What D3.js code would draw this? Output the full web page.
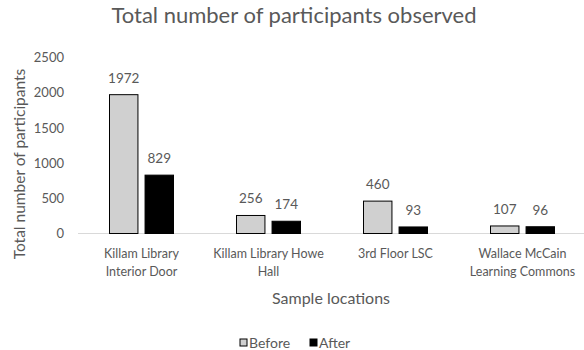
<!DOCTYPE html>
<html><head><meta charset="utf-8">
<script src="https://cdn.jsdelivr.net/npm/d3@7"></script>
<style>body{margin:0;background:#fff;} text{font-family:Lato,"Open Sans",sans-serif;fill:#595959;}</style>
</head><body>
<svg id="chart" width="584" height="350"></svg>
<script>
const categories = ["Killam Library Interior Door","Killam Library Howe Hall","3rd Floor LSC","Wallace McCain Learning Commons"];
const categoryLines = [["Killam Library","Interior Door"],["Killam Library Howe","Hall"],["3rd Floor LSC"],["Wallace McCain","Learning Commons"]];
const series = ["Before","After"];
const before = [1972,256,460,107];
const after = [829,174,93,96];
const yTicks = [0,500,1000,1500,2000,2500];
const colors = {Before:"#d0d0d0", After:"#000000"};

const svg = d3.select("#chart");
const x0 = d3.scaleBand().domain(categories).range([78,586]).padding(0);
const x1 = d3.scaleBand().domain(series).range([31.5,95.5]).paddingInner(0.2);
const y = d3.scaleLinear().domain([0,2500]).range([233.5,57.5]);

svg.append("text").attr("x",294).attr("y",23).attr("text-anchor","middle").style("font-size","22px").text("Total number of participants observed");

const yAxis = svg.append("g").attr("transform","translate(64,0)")
  .call(d3.axisLeft(y).tickValues(yTicks).tickSize(0).tickPadding(0).tickFormat(d3.format("d")));
yAxis.select(".domain").remove();
yAxis.selectAll("text").style("font-size","13px").style("fill","#595959").style("font-family","Lato");

svg.append("line").attr("x1",78).attr("x2",584).attr("y1",y(0)).attr("y2",y(0)).attr("stroke","#d9d9d9").attr("stroke-width",1);

const data = categories.map((c,i)=>({cat:c, vals:[{s:"Before",v:before[i]},{s:"After",v:after[i]}]}));
const g = svg.selectAll("g.grp").data(data).enter().append("g").attr("class","grp").attr("transform",d=>`translate(${x0(d.cat)},0)`);
g.selectAll("rect").data(d=>d.vals).enter().append("rect")
  .attr("x",d=>x1(d.s)).attr("width",x1.bandwidth())
  .attr("y",d=>y(d.v)).attr("height",d=>y(0)-y(d.v))
  .attr("fill",d=>colors[d.s]).attr("stroke","#000").attr("stroke-width",1);
g.selectAll("text.val").data(d=>d.vals).enter().append("text").attr("class","val")
  .attr("x",d=>x1(d.s)+x1.bandwidth()/2).attr("y",d=>y(d.v)-12)
  .attr("text-anchor","middle").style("font-size","13.5px").text(d=>d.v);

const xl = svg.selectAll("g.xl").data(categories).enter().append("g").attr("class","xl");
xl.each(function(c,i){
  const sel = d3.select(this);
  categoryLines[i].forEach((ln,j)=>{
    sel.append("text").attr("x",x0(c)+x0.bandwidth()/2).attr("y",258+j*18)
      .attr("text-anchor","middle").style("font-size","12.5px").text(ln);
  });
});

svg.append("text").attr("x",331).attr("y",304).attr("text-anchor","middle").style("font-size","16px").text("Sample locations");
svg.append("text").attr("transform","translate(25,164) rotate(-90)").attr("text-anchor","middle").style("font-size","15.5px").text("Total number of participants");

const leg = svg.append("g");
const legX = [240,310];
series.forEach((s,i)=>{
  leg.append("rect").attr("x",legX[i]).attr("y",339).attr("width",7).attr("height",7).attr("fill",colors[s]).attr("stroke","#000").attr("stroke-width",1);
  leg.append("text").attr("x",legX[i]+9).attr("y",348).style("font-size","14px").text(s);
});
</script>
</body></html>
